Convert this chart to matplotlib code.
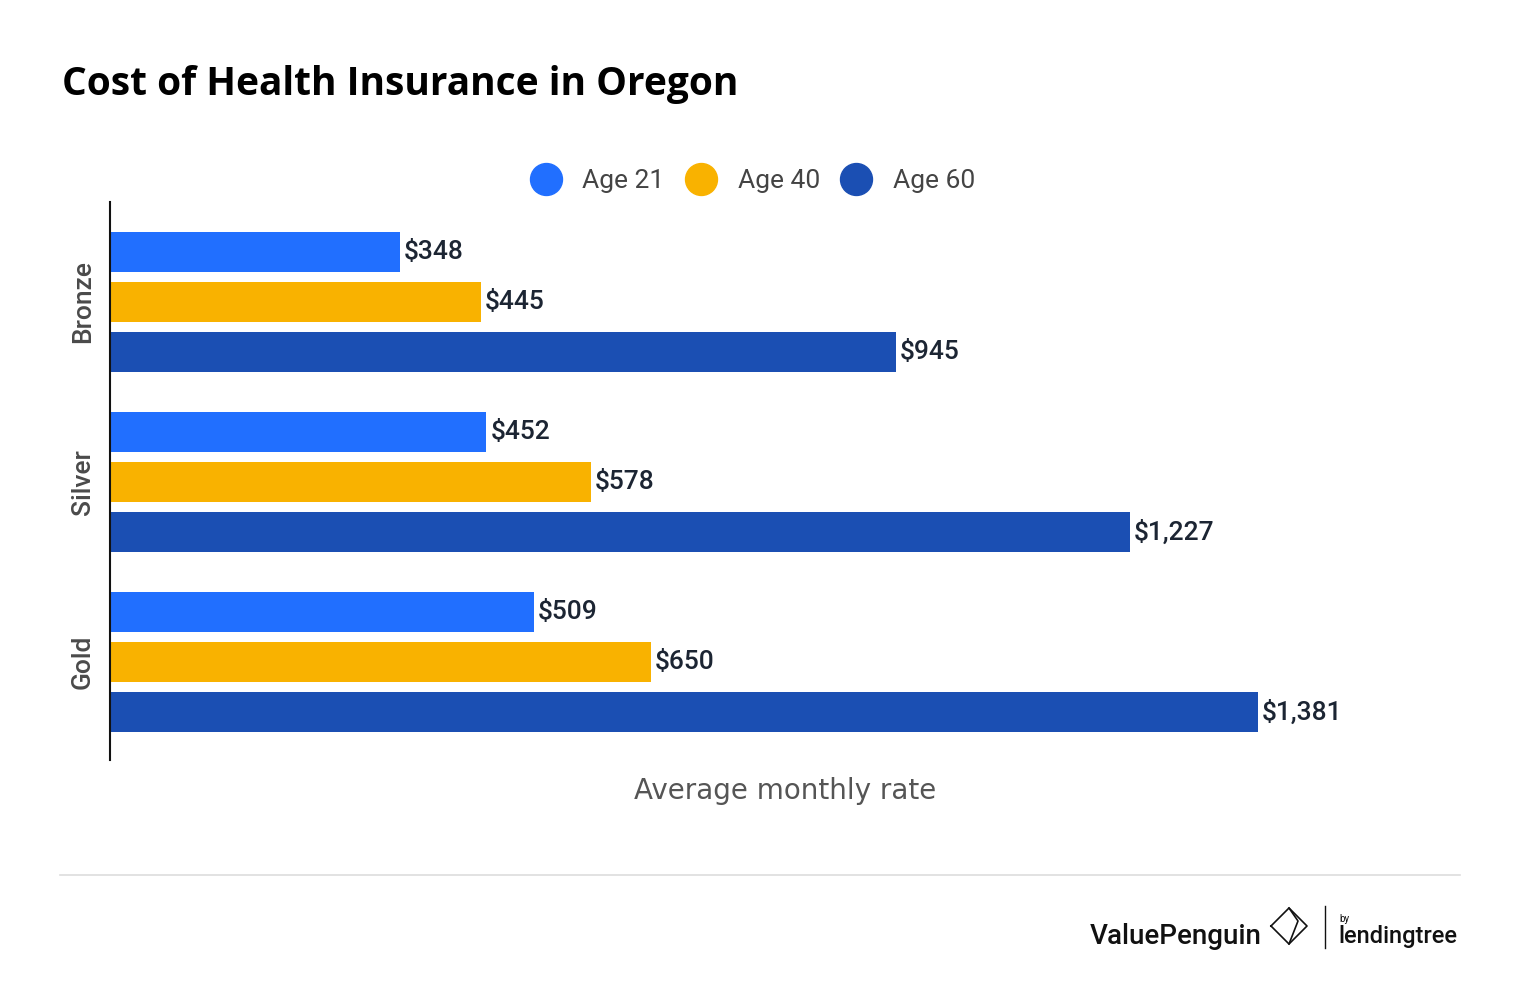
import numpy as np
import matplotlib.pyplot as plt
from matplotlib.lines import Line2D

# chart data
plans = ['Bronze', 'Silver', 'Gold']
ages = ['Age 21', 'Age 40', 'Age 60']
age21 = [348, 452, 509]
age40 = [445, 578, 650]
age60 = [945, 1227, 1381]
colors = ['#216FFF', '#F9B200', '#1B4FB3']

W, H = 1520, 984
fig = plt.figure(figsize=(W / 100, H / 100), dpi=100)
fig.patch.set_facecolor('white')

# axes placed in pixel terms: left spine x=110, top y=202, bottom y=760
ax_left, ax_right, ax_top, ax_bot = 110, 1460, 202, 760
ax = fig.add_axes([ax_left / W, 1 - ax_bot / H, (ax_right - ax_left) / W, (ax_bot - ax_top) / H])

px_per_dollar = (1258 - 111) / 1381
ax.set_xlim(0, (ax_right - ax_left) / px_per_dollar)
ax.set_ylim(2 + 98 / 180, -100 / 180)

offset = 50 / 180
height = 40 / 180
y = np.arange(len(plans))
series = [age21, age40, age60]
for j, vals in enumerate(series):
    pos = y + (j - 1) * offset
    ax.barh(pos, vals, height=height, color=colors[j], left=1.2)
    for p, v in zip(pos, vals):
        ax.text(v + 6, p, f'${v:,}', va='center', ha='left', fontsize=19,
                family='Roboto', fontweight='medium', color='#1c2533')

ax.set_yticks(y)
ax.set_yticklabels(plans, rotation=90, va='center', fontsize=19, family='Roboto',
                   fontweight='medium', color='#4a4a4a')
ax.tick_params(axis='y', length=0, pad=11)
ax.set_xticks([])
for s in ['top', 'right', 'bottom']:
    ax.spines[s].set_visible(False)
ax.spines['left'].set_linewidth(1.5)
ax.spines['left'].set_color('#111111')

ax.set_xlabel('Average monthly rate', fontsize=20, color='#555555', family='DejaVu Sans', labelpad=12)

# legend with round markers
handles = [Line2D([0], [0], marker='o', linestyle='', markersize=23,
                  markerfacecolor=c, markeredgecolor=c) for c in colors]
leg = fig.legend(handles, ages, loc='center', bbox_to_anchor=(747 / W, 1 - 181 / H), ncol=3,
                 frameon=False, handletextpad=0.4, columnspacing=0.36,
                 prop={'family': 'Roboto', 'size': 19})
for t in leg.get_texts():
    t.set_color('#444444')

# title
fig.text(62 / W, 1 - 84 / H, 'Cost of Health Insurance in Oregon', fontsize=28,
         family='Open Sans', fontweight='bold', color='black', va='center', ha='left')

# separator line
fig.add_artist(Line2D([60 / W, 1460 / W], [1 - 875 / H, 1 - 875 / H], color='#dddddd', linewidth=1.2))

# branding
fig.text(1090 / W, 1 - 936 / H, 'ValuePenguin', fontsize=20, family='Roboto', fontweight='medium',
         color='#111111', va='center', ha='left')
ix, iy = 1289, 926
icon = [(ix - 18, iy), (ix, iy - 18), (ix + 18, iy), (ix, iy + 18), (ix - 18, iy)]
fig.add_artist(Line2D([p[0] / W for p in icon], [1 - p[1] / H for p in icon], color='#111111', linewidth=1.2))
fig.add_artist(Line2D([ix / W, (ix + 9) / W, ix / W], [1 - (iy - 18) / H, 1 - (iy - 5) / H, 1 - (iy + 18) / H],
                      color='#111111', linewidth=1.2))
fig.add_artist(Line2D([1325 / W, 1325 / W], [1 - 906 / H, 1 - 948 / H], color='#111111', linewidth=1))
fig.text(1339 / W, 1 - 919 / H, 'by', fontsize=7, family='Roboto', color='#111111', va='center')
fig.text(1338 / W, 1 - 937 / H, 'lendingtree', fontsize=17, family='Roboto', fontweight='medium',
         color='#111111', va='center', ha='left')

fig.savefig('out.png', dpi=100)
